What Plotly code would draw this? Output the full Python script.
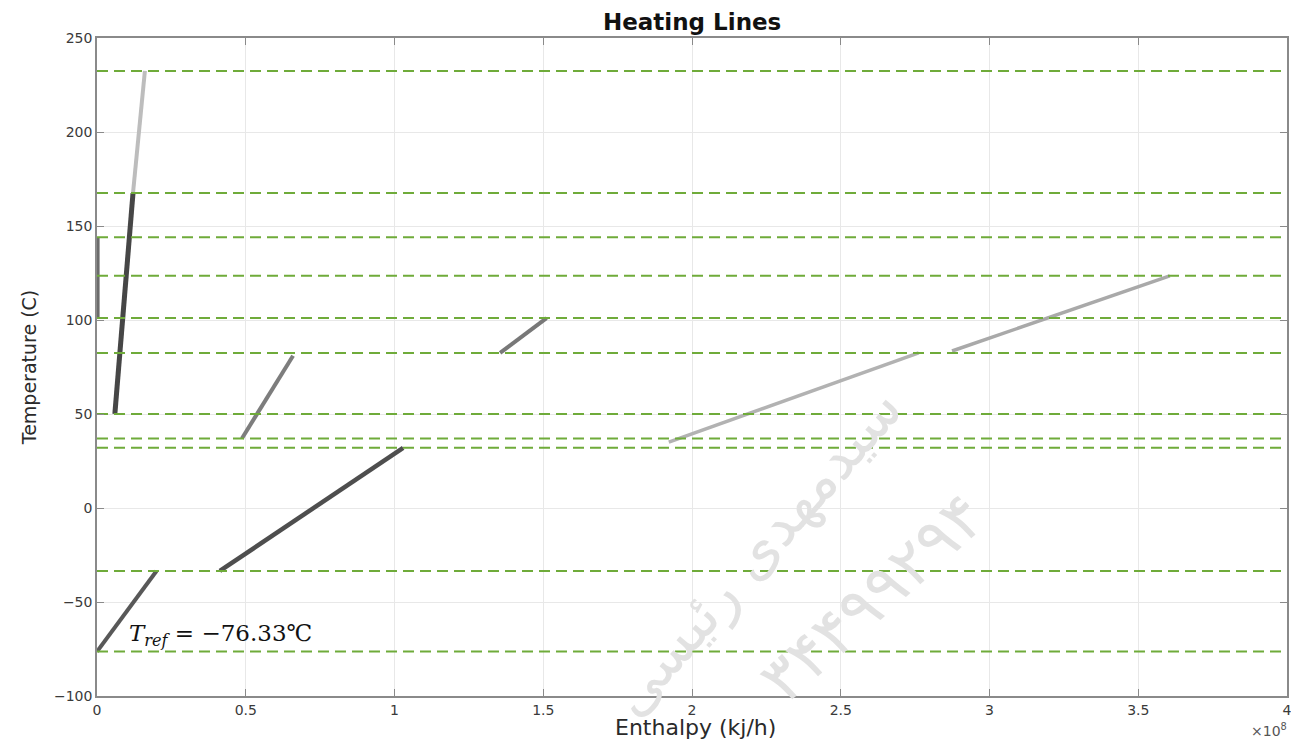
import plotly.graph_objects as go

# ---- data ----
level_temps = [232.5, 167.5, 144, 123.5, 101, 82.5, 50, 37, 32, -33.5, -76.33]

seg_h0 = [0.121e8, 0.060e8, 0.002e8, 0.487e8, 0.413e8, 0.000e8, 1.355e8, 1.922e8, 2.874e8]
seg_h1 = [0.161e8, 0.121e8, 0.002e8, 0.659e8, 1.029e8, 0.200e8, 1.511e8, 2.762e8, 3.606e8]
seg_t0 = [167.5, 50, 101, 37, -33.5, -76.33, 82.5, 35, 83.5]
seg_t1 = [232.5, 167.5, 144, 81, 32, -33.5, 101, 82.5, 123.5]

x_tick_vals = [0, 0.5e8, 1e8, 1.5e8, 2e8, 2.5e8, 3e8, 3.5e8, 4e8]
x_tick_text = ["0", "0.5", "1", "1.5", "2", "2.5", "3", "3.5", "4"]
y_tick_vals = [-100, -50, 0, 50, 100, 150, 200, 250]

# ---- styles ----
seg_colors = ["#bdbdbd", "#464646", "#6b6b6b", "#7d7d7d", "#4e4e4e", "#585858",
              "#787878", "#b2b2b2", "#a9a9a9"]
seg_widths = [4, 5, 4, 4, 4.5, 4, 4, 3.5, 3.5]
green = "#6FAB3A"

fig = go.Figure()

for h0, h1, t0, t1, c, w in zip(seg_h0, seg_h1, seg_t0, seg_t1, seg_colors, seg_widths):
    fig.add_trace(go.Scatter(x=[h0, h1], y=[t0, t1], mode="lines",
                             line=dict(color=c, width=w), showlegend=False,
                             hoverinfo="skip"))

for t in level_temps:
    fig.add_trace(go.Scatter(x=[0, 4e8], y=[t, t], mode="lines",
                             line=dict(color=green, width=2, dash="11px,6px"),
                             showlegend=False, hoverinfo="skip"))

font_main = "DejaVu Sans, Liberation Sans, Arial, sans-serif"

# page body adds ~8px offset; figure sized to fit the 1299x749 window
fig.update_layout(
    width=1283, height=733,
    margin=dict(l=89, r=4, t=30, b=45, autoexpand=False),
    paper_bgcolor="white", plot_bgcolor="white",
    font=dict(family=font_main, color="#333333", size=14),
    xaxis=dict(range=[0, 4e8], tickvals=x_tick_vals, ticktext=x_tick_text,
               automargin=False, ticklabeloverflow="allow",
               showgrid=True, gridcolor="#e8e8e8", gridwidth=1,
               zeroline=False, showline=True, linecolor="#8a8a8a", linewidth=1.5,
               mirror="ticks", ticks="inside", ticklen=7, tickcolor="#8a8a8a",
               tickfont=dict(size=14, color="#3a3a3a")),
    yaxis=dict(range=[-100, 250], tickvals=y_tick_vals,
               automargin=False,
               showgrid=True, gridcolor="#e8e8e8", gridwidth=1,
               zeroline=False, showline=True, linecolor="#8a8a8a", linewidth=1.5,
               mirror="ticks", ticks="inside", ticklen=7, tickcolor="#8a8a8a",
               tickfont=dict(size=14, color="#3a3a3a"),
               title=dict(text="Temperature (C)", standoff=12,
                          font=dict(size=19, color="#2a2a2a"))),
)

# plot-area corners in window pixels
L, R, T, B = 97, 1287, 38, 696


def px_to_paper(px, py):
    return (px - L) / (R - L), (B - py) / (B - T)


# watermark (drawn first so other texts sit on top)
wx, wy = px_to_paper(755, 552)
fig.add_annotation(text="سیدمهدی رئیسی", x=wx, y=wy, xref="paper", yref="paper",
                   xanchor="center", yanchor="middle",
                   showarrow=False, textangle=-49,
                   font=dict(family="DejaVu Sans", size=58, color="#e2e2e2"))
nx, ny = px_to_paper(872, 598)
fig.add_annotation(text="۳۴۴۹۹۲۹۴", x=nx, y=ny, xref="paper", yref="paper",
                   xanchor="center", yanchor="middle",
                   showarrow=False, textangle=-42,
                   font=dict(family="DejaVu Sans", size=64, color="#e2e2e2"))

# x-axis title
xtx, xty = px_to_paper(695, 727)
fig.add_annotation(text="Enthalpy (kj/h)", xref="paper", yref="paper",
                   x=xtx, y=xty, xanchor="center", yanchor="middle", showarrow=False,
                   font=dict(family=font_main, size=22, color="#2a2a2a"))

# title
tx, ty = px_to_paper(692, 22)
fig.add_annotation(text="<b>Heating Lines</b>", xref="paper", yref="paper",
                   x=tx, y=ty, xanchor="center", yanchor="middle", showarrow=False,
                   font=dict(family=font_main, size=23, color="#111111"))

# exponent label
ex, ey = px_to_paper(1289, 730)
fig.add_annotation(text="×10<sup>8</sup>", xref="paper", yref="paper",
                   x=ex, y=ey, xanchor="right", yanchor="middle",
                   showarrow=False, font=dict(size=14, color="#555555"))

# T_ref label
fig.add_annotation(text="<i>T</i><sub><i>ref</i></sub> = −76.33℃",
                   x=0.1e8, y=-67.5, xref="x", yref="y",
                   xanchor="left", yanchor="middle", showarrow=False,
                   font=dict(family="DejaVu Serif, Liberation Serif, serif",
                             size=23, color="#111111"))

fig.write_html("out.html")
